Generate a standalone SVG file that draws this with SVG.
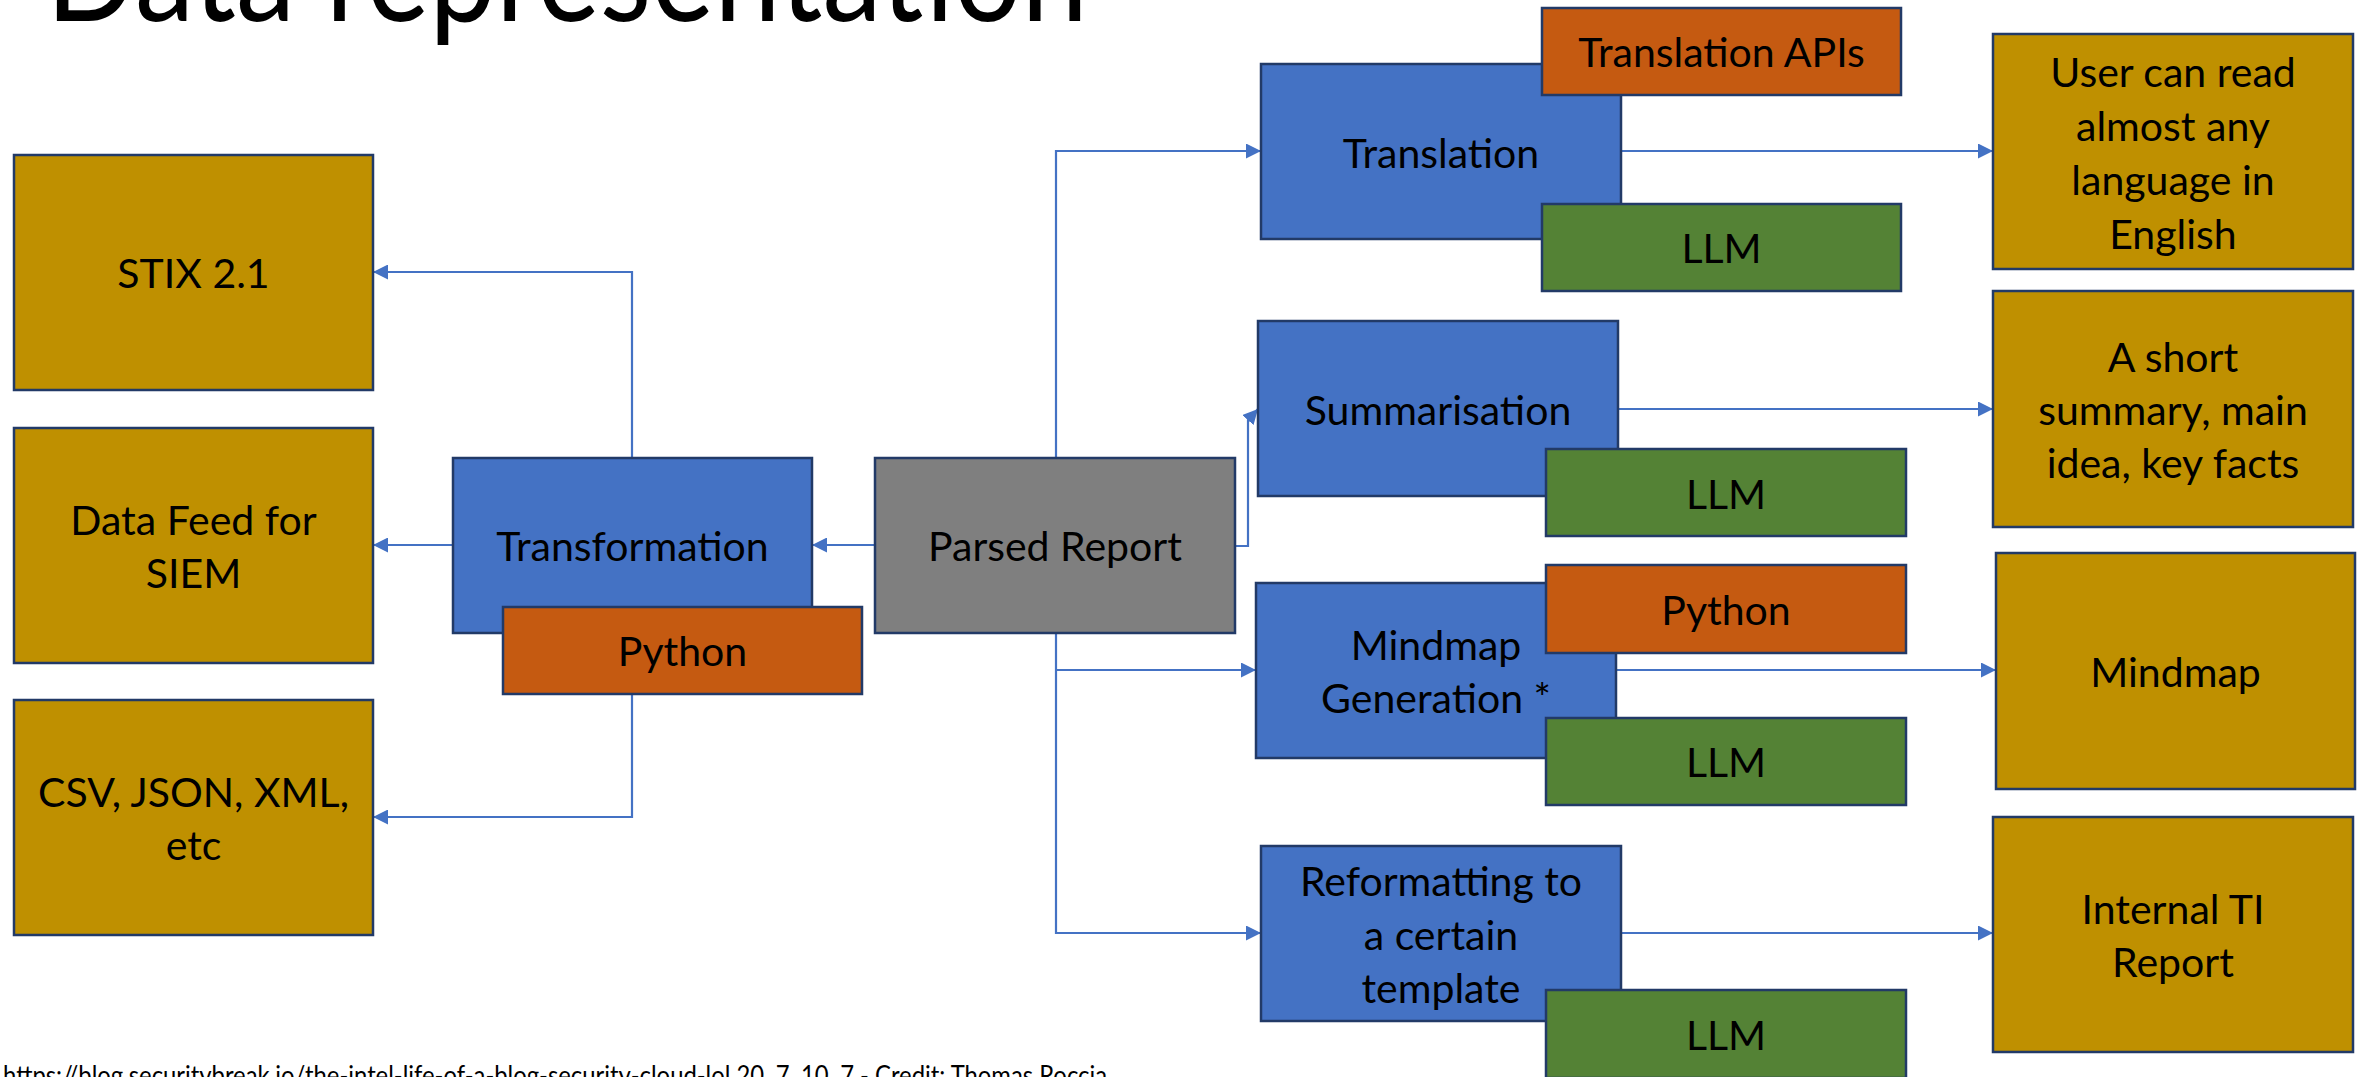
<svg xmlns="http://www.w3.org/2000/svg" width="2362" height="1077" viewBox="0 0 2362 1077">
  <style>
    .box { stroke: #223A67; stroke-width: 2.5; }
    .blue { fill: #4472C4; }
    .gold { fill: #BF9000; }
    .orange { fill: #C55A11; }
    .green { fill: #548235; }
    .gray { fill: #7F7F7F; }
    .lbl { font-family: Lato, "Liberation Sans", sans-serif; font-size: 41px; fill: #000000; text-anchor: middle; }
    .wire { fill: none; stroke: #4472C4; stroke-width: 2.2; marker-end: url(#arrow); }
    .title { font-family: Lato, "Liberation Sans", sans-serif; font-weight: 400; font-size: 138px; fill: #000000; }
    .note { font-family: Lato, "Liberation Sans", sans-serif; font-size: 26px; fill: #000000; }
  </style>
  <defs>
    <marker id="arrow" markerUnits="userSpaceOnUse" markerWidth="15" markerHeight="15" refX="15" refY="7.5" orient="auto" viewBox="0 0 15 15">
      <path d="M0,0 L15,7.5 L0,15 z" fill="#4472C4"/>
    </marker>
  </defs>

  <rect width="2362" height="1077" fill="#FFFFFF"/>

  <!-- slide heading, partly above the top edge -->
  <text class="title" x="46" y="21" textLength="1042" lengthAdjust="spacingAndGlyphs">Data representation</text>

  <!-- connectors -->
  <g id="connectors">
    <path class="wire" d="M875,545 H812"/>
    <path class="wire" d="M632,457 V272 H373"/>
    <path class="wire" d="M453,545 H373"/>
    <path class="wire" d="M632,694 V817 H373"/>
    <path class="wire" d="M1056,458 V151 H1261"/>
    <path class="wire" d="M1235,546 H1248 V420 L1258,409"/>
    <path class="wire" d="M1056,633 V933 H1261"/>
    <path class="wire" d="M1056,670 H1256"/>
    <path class="wire" d="M1621,151 H1993"/>
    <path class="wire" d="M1618,409 H1993"/>
    <path class="wire" d="M1616,670 H1996"/>
    <path class="wire" d="M1621,933 H1993"/>
  </g>

  <!-- output formats, left column -->
  <g id="stix">
    <rect class="box gold" x="14" y="155" width="359" height="235"/>
    <text class="lbl" x="193.5" y="288">STIX 2.1</text>
  </g>
  <g id="siem-feed">
    <rect class="box gold" x="14" y="428" width="359" height="235"/>
    <text class="lbl" x="193.5" y="535">Data Feed for</text>
    <text class="lbl" x="193.5" y="588">SIEM</text>
  </g>
  <g id="file-formats">
    <rect class="box gold" x="14" y="700" width="359" height="235"/>
    <text class="lbl" x="193.5" y="807">CSV, JSON, XML,</text>
    <text class="lbl" x="193.5" y="860">etc</text>
  </g>

  <!-- transformation step -->
  <g id="transformation">
    <rect class="box blue" x="453" y="458" width="359" height="175"/>
    <text class="lbl" x="632.5" y="561">Transformation</text>
  </g>
  <g id="transformation-python">
    <rect class="box orange" x="503" y="607" width="359" height="87"/>
    <text class="lbl" x="682.5" y="666">Python</text>
  </g>

  <!-- source -->
  <g id="parsed-report">
    <rect class="box gray" x="875" y="458" width="360" height="175"/>
    <text class="lbl" x="1055" y="561">Parsed Report</text>
  </g>

  <!-- translation -->
  <g id="translation">
    <rect class="box blue" x="1261" y="64" width="360" height="175"/>
    <text class="lbl" x="1441" y="168">Translation</text>
  </g>
  <g id="translation-apis">
    <rect class="box orange" x="1542" y="8" width="359" height="87"/>
    <text class="lbl" x="1721.5" y="67">Translation APIs</text>
  </g>
  <g id="translation-llm">
    <rect class="box green" x="1542" y="204" width="359" height="87"/>
    <text class="lbl" x="1721.5" y="263">LLM</text>
  </g>
  <g id="read-any-language">
    <rect class="box gold" x="1993" y="34" width="360" height="235"/>
    <text class="lbl" x="2173" y="87">User can read</text>
    <text class="lbl" x="2173" y="141">almost any</text>
    <text class="lbl" x="2173" y="195">language in</text>
    <text class="lbl" x="2173" y="249">English</text>
  </g>

  <!-- summarisation -->
  <g id="summarisation">
    <rect class="box blue" x="1258" y="321" width="360" height="175"/>
    <text class="lbl" x="1438" y="425">Summarisation</text>
  </g>
  <g id="summarisation-llm">
    <rect class="box green" x="1546" y="449" width="360" height="87"/>
    <text class="lbl" x="1726" y="509">LLM</text>
  </g>
  <g id="short-summary">
    <rect class="box gold" x="1993" y="291" width="360" height="236"/>
    <text class="lbl" x="2173" y="372">A short</text>
    <text class="lbl" x="2173" y="425">summary, main</text>
    <text class="lbl" x="2173" y="478">idea, key facts</text>
  </g>

  <!-- mindmap generation -->
  <g id="mindmap-generation">
    <rect class="box blue" x="1256" y="583" width="360" height="175"/>
    <text class="lbl" x="1436" y="660">Mindmap</text>
    <text class="lbl" x="1436" y="713">Generation *</text>
  </g>
  <g id="mindmap-python">
    <rect class="box orange" x="1546" y="565" width="360" height="88"/>
    <text class="lbl" x="1726" y="625">Python</text>
  </g>
  <g id="mindmap-llm">
    <rect class="box green" x="1546" y="718" width="360" height="87"/>
    <text class="lbl" x="1726" y="777">LLM</text>
  </g>
  <g id="mindmap">
    <rect class="box gold" x="1996" y="553" width="359" height="236"/>
    <text class="lbl" x="2175.5" y="687">Mindmap</text>
  </g>

  <!-- reformatting -->
  <g id="reformatting">
    <rect class="box blue" x="1261" y="846" width="360" height="175"/>
    <text class="lbl" x="1441" y="896">Reformatting to</text>
    <text class="lbl" x="1441" y="950">a certain</text>
    <text class="lbl" x="1441" y="1003">template</text>
  </g>
  <g id="reformatting-llm">
    <rect class="box green" x="1546" y="990" width="360" height="88"/>
    <text class="lbl" x="1726" y="1050">LLM</text>
  </g>
  <g id="internal-report">
    <rect class="box gold" x="1993" y="817" width="360" height="235"/>
    <text class="lbl" x="2173" y="924">Internal TI</text>
    <text class="lbl" x="2173" y="977">Report</text>
  </g>

  <!-- source line, cut by the bottom edge -->
  <text class="note" x="3" y="1085" textLength="1104" lengthAdjust="spacingAndGlyphs">https://blog.securitybreak.io/the-intel-life-of-a-blog-security-cloud-lol 20, 7, 10, 7 - Credit: Thomas Roccia</text>
</svg>
